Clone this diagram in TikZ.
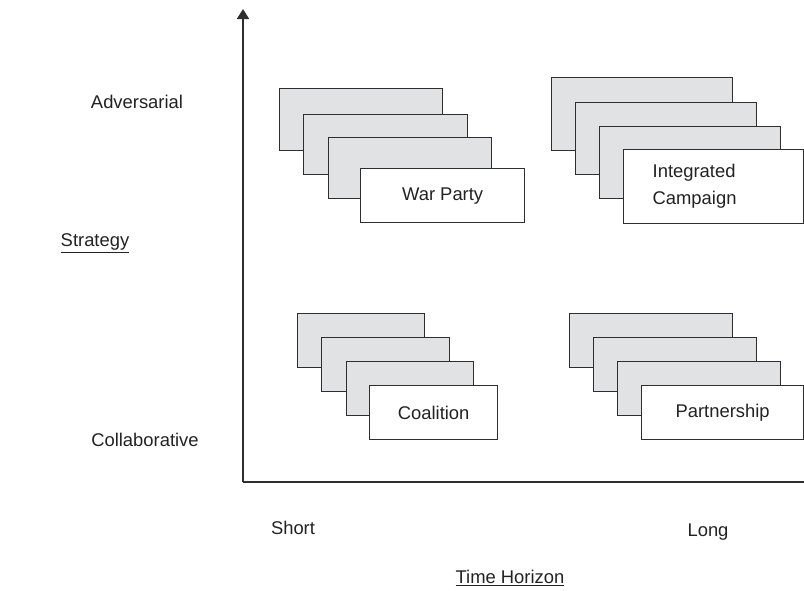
\documentclass[tikz,border=0pt]{standalone}
\usepackage{fontspec}
\setmainfont{Liberation Sans}
\usepackage{tikz}
\usetikzlibrary{arrows.meta}

\definecolor{boxgray}{HTML}{E1E2E3}
\definecolor{linegray}{HTML}{2E2E2E}
\definecolor{textgray}{HTML}{222222}

\begin{document}
\begin{tikzpicture}[x=1pt, y=-1pt,
    every node/.style={font=\fontsize{18.4}{22}\selectfont, text=textgray},
    back/.style={draw=linegray, fill=boxgray, line width=1.3pt, inner sep=0pt, anchor=north west},
    front/.style={draw=linegray, fill=white, line width=1.3pt, inner sep=0pt, anchor=north west}]
        \useasboundingbox (0, 0) rectangle (804, 590);
        % axes
        \coordinate (origin) at (243, 482);
        \coordinate (ytop) at (243, 9);
        \coordinate (xend) at (806, 482);
        \draw[linegray, line width=1.8pt, -{Triangle[length=10pt, width=12pt]}] (origin) -- (ytop);
        \draw[linegray, line width=1.8pt] (origin) -- (xend);
        % war party
        \node[back, minimum width=163pt, minimum height=62pt] (wp1) at (279, 88) {};
        \node[back, minimum width=164pt, minimum height=60pt] (wp2) at (303, 114) {};
        \node[back, minimum width=163pt, minimum height=61pt] (wp3) at (328, 137) {};
        \node[front, minimum width=164pt, minimum height=54pt] (wp4) at (360, 168) {War Party};
        % integrated campaign
        \node[back, minimum width=181pt, minimum height=73pt] (ic1) at (551, 77) {};
        \node[back, minimum width=181pt, minimum height=72pt] (ic2) at (575, 102) {};
        \node[back, minimum width=181pt, minimum height=72pt] (ic3) at (599, 126) {};
        \node[front, minimum width=180pt, minimum height=74pt, inner xsep=29pt, text width=122pt, align=left] (ic4) at (623, 149) {Integrated\\[5pt]Campaign};
        % coalition
        \node[back, minimum width=127pt, minimum height=54pt] (co1) at (297, 313) {};
        \node[back, minimum width=128pt, minimum height=54pt] (co2) at (321, 337) {};
        \node[back, minimum width=127pt, minimum height=54pt] (co3) at (346, 361) {};
        \node[front, minimum width=128pt, minimum height=54pt] (co4) at (369, 385) {Coalition};
        % partnership
        \node[back, minimum width=163pt, minimum height=54pt] (pa1) at (569, 313) {};
        \node[back, minimum width=163pt, minimum height=54pt] (pa2) at (593, 337) {};
        \node[back, minimum width=163pt, minimum height=54pt] (pa3) at (617, 361) {};
        \node[front, minimum width=162pt, minimum height=54pt] (pa4) at (641, 385) {Partnership};
        % axis labels
        \node (adv) at (137, 102) {Adversarial};
        \node (strat) at (95, 243) {\underline{Strategy}};
        \node (collab) at (145, 440) {Collaborative};
        \node (short) at (293, 528) {Short};
        \node (long) at (708, 532) {Long};
        \node (horizon) at (510, 578) {\underline{Time Horizon}};
    \end{tikzpicture}
\end{document}
